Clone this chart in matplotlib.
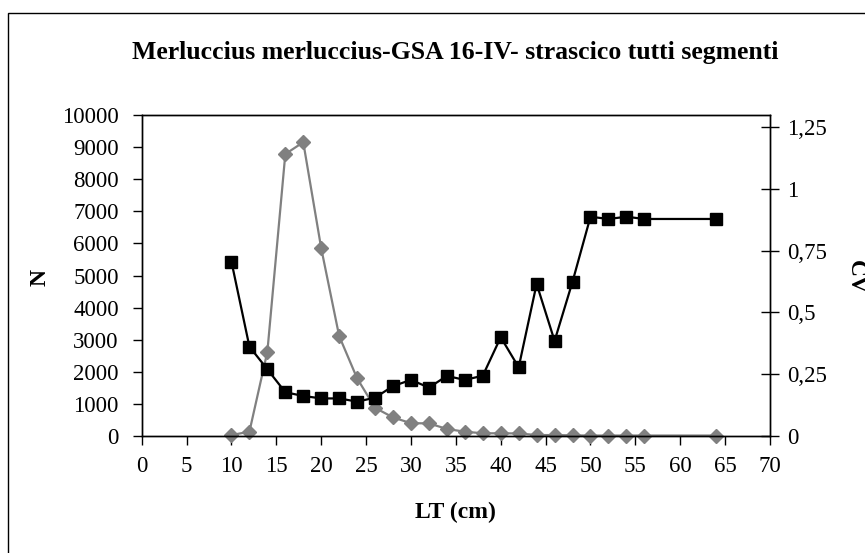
import numpy as np
import matplotlib.pyplot as plt
from matplotlib.patches import Rectangle

# Dati
lt = [10, 12, 14, 16, 18, 20, 22, 24, 26, 28, 30, 32, 34, 36, 38, 40,
      42, 44, 46, 48, 50, 52, 54, 56, 64]
n_vals = [20, 125, 2620, 8790, 9160, 5850, 3110, 1790, 870, 570, 390, 385,
          210, 125, 75, 75, 70, 20, 20, 10, 5, 5, 5, 5, 5]
cv_vals = [0.705, 0.361, 0.269, 0.176, 0.161, 0.151, 0.151, 0.138, 0.154,
           0.201, 0.226, 0.195, 0.242, 0.226, 0.243, 0.399, 0.277, 0.615,
           0.384, 0.624, 0.887, 0.878, 0.887, 0.878, 0.878]

x_ticks = list(range(0, 75, 5))
n_ticks = list(range(0, 11000, 1000))
cv_ticks = [0, 0.25, 0.5, 0.75, 1, 1.25]
cv_labels = ["0", "0,25", "0,5", "0,75", "1", "1,25"]

plt.rcParams['font.family'] = ['Liberation Serif', 'DejaVu Serif']

fig = plt.figure(figsize=(8.65, 5.53), dpi=100)
ax = fig.add_axes([141.7 / 865, 1 - 435.7 / 553, (770 - 141.7) / 865, (435.7 - 115.3) / 553])
ax2 = ax.twinx()

ax.plot(lt, n_vals, color='#808080', lw=1.6, marker='D', markersize=7,
        markerfacecolor='#808080', markeredgecolor='#808080', clip_on=False)
ax2.plot(lt, cv_vals, color='black', lw=1.6, marker='s', markersize=8,
         markerfacecolor='black', markeredgecolor='black', clip_on=False)

ax.set_xlim(0, 70)
ax.set_ylim(0, 10000)
ax2.set_ylim(0, 1.298)
ax.set_xticks(x_ticks)
ax.set_yticks(n_ticks)
ax2.set_yticks(cv_ticks)
ax2.set_yticklabels(cv_labels)

for a in (ax, ax2):
    for s in a.spines.values():
        s.set_linewidth(1.0)
        s.set_color('black')

ax.tick_params(axis='both', direction='out', length=6.5, width=1.0,
               labelsize=16.5, pad=10)
ax.tick_params(axis='x', pad=8)
ax2.tick_params(axis='y', direction='inout', length=13, width=1.0,
                labelsize=16.5, pad=6)

fig.text(455 / 865, 1 - 52 / 553, "Merluccius merluccius-GSA 16-IV- strascico tutti segmenti",
         ha='center', va='center', fontsize=18.5, fontweight='bold')
fig.text(455 / 865, 1 - 512 / 553, "LT (cm)", ha='center', va='center',
         fontsize=17, fontweight='bold')
fig.text(40 / 865, 1 - 278 / 553, "N", ha='center', va='center', rotation=90,
         fontsize=17, fontweight='bold')
fig.text(855 / 865, 1 - 277 / 553, "CV", ha='center', va='center', rotation=-90,
         fontsize=17, fontweight='bold')

# bordo esterno del grafico
fig.add_artist(Rectangle((8 / 865, -0.2), 1.2, 1 - 13 / 553 + 0.2,
                         transform=fig.transFigure, fill=False,
                         edgecolor='black', lw=1.0))

fig.savefig("out.png", dpi=100)
